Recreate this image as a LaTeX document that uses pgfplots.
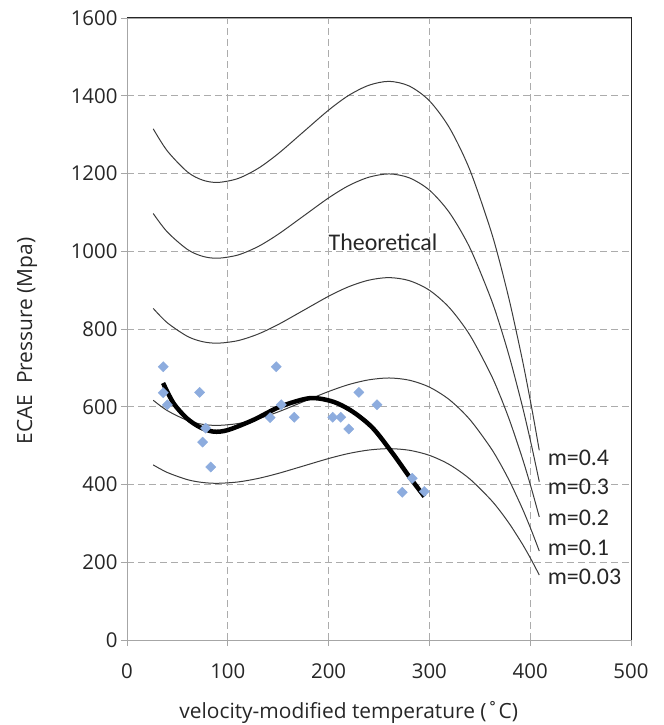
\documentclass[border=0pt]{standalone}
\usepackage{pgfplots}
\pgfplotsset{compat=1.18}
\usepackage{fontspec}
\setmainfont{Carlito}
\newfontfamily\osfont{Open Sans}
\definecolor{ptblue}{RGB}{141,172,222}
\definecolor{curve}{RGB}{60,60,60}
\begin{document}
\begin{tikzpicture}
\begin{axis}[
  scale only axis, width=504bp, height=622bp,
  xmin=0, xmax=500, ymin=0, ymax=1600,
  xtick={0,100,...,500}, ytick={0,200,...,1600},
  grid=major,
  major grid style={gray!65, line width=0.8bp, dash pattern=on 7bp off 4bp},
  axis line style={gray!70, line width=0.8bp},
  tick align=outside, xtick pos=left, ytick pos=left,
  major tick length=6bp,
  tick style={gray!70, line width=0.8bp},
  /pgf/number format/assume math mode=true,
  /pgf/number format/1000 sep={},
  tick label style={font=\osfont\fontsize{20.5}{24}\selectfont, text=black!85},
  xticklabel style={yshift=-14bp},
  clip=false,
]
% experimental data
\addplot[only marks, mark=square*, mark size=3.6bp, mark options={rotate=45, fill=ptblue, draw=ptblue}] coordinates {
(36,703) (36,636) (40,605) (72,637) (78,545) (75,509) (83,445)
(148,703) (153,605) (142,572) (166,573) (204,573) (212,573) (220,543)
(230,637) (248,605) (273,380) (283,416) (295,382)
};
% theoretical curves
\addplot[curve, line width=1bp, smooth] coordinates {
(26,1315) (40,1258) (60,1204) (75,1183) (90,1177) (110,1187) (130,1213) (150,1251) (175,1307) (200,1363) (220,1401) (240,1427) (260,1437) (280,1425) (300,1387) (320,1317) (340,1210) (360,1061) (370,970) (380,866) (390,748) (395,685) (402,590) (409,488)
};
\addplot[curve, line width=1bp, smooth] coordinates {
(26,1097.1) (40,1049.5) (60,1004.5) (75,987) (90,982) (110,990.3) (130,1012) (150,1043.7) (175,1090.4) (200,1137.2) (220,1168.9) (240,1190.5) (260,1198.9) (280,1188.9) (300,1157.2) (320,1098.8) (340,1009.5) (360,885.2) (370,809.3) (380,722.5) (390,624.1) (395,571.5) (402,492.2) (409,407.1)
};
\addplot[curve, line width=1bp, smooth] coordinates {
(26,853) (40,816) (60,781) (75,767.4) (90,763.5) (110,770) (130,786.9) (150,811.5) (175,847.8) (200,884.2) (220,908.8) (240,925.7) (260,932.2) (280,924.4) (300,899.7) (320,854.3) (340,784.9) (360,688.3) (370,629.2) (380,561.8) (390,485.2) (395,444.4) (402,382.7) (409,316.6)
};
\addplot[curve, line width=1bp, smooth] coordinates {
(26,616.7) (40,590) (60,564.7) (75,554.8) (90,552) (110,556.7) (130,568.9) (150,586.7) (175,613) (200,639.2) (220,657.1) (240,669.3) (260,674) (280,668.3) (300,650.5) (320,617.7) (340,567.5) (360,497.6) (370,454.9) (380,406.2) (390,350.8) (395,321.3) (402,276.7) (409,228.9)
};
\addplot[curve, line width=1bp, smooth] coordinates {
(26,450.4) (40,430.9) (60,412.4) (75,405.2) (90,403.1) (110,406.5) (130,415.5) (150,428.5) (175,447.6) (200,466.8) (220,479.8) (240,488.7) (260,492.2) (280,488.1) (300,475) (320,451.1) (340,414.4) (360,363.4) (370,332.2) (380,296.6) (390,256.2) (395,234.6) (402,202.1) (409,167.1)
};
% polynomial trend of the data
\addplot[black, line width=4.5bp, smooth, tension=0.5] coordinates {
(35.8,661) (46.2,609) (59.5,570) (72.6,547) (85.8,536) (100,540) (125.3,566) (151.7,600) (181.3,622) (204.4,613) (224.1,587) (243.9,545) (263.6,480) (280.1,420) (295,369)
};
\draw[black!85, line width=1bp] (rel axis cs:0,1) -- (rel axis cs:1,1) -- (rel axis cs:1,0);
\node[font=\fontsize{24}{28}\selectfont, text=black!85] at (axis cs:254,1022) {Theoretical};
\node[anchor=west, font=\fontsize{24}{28}\selectfont, text=black!85] at (axis cs:414,469) {m=0.4};
\node[anchor=west, font=\fontsize{24}{28}\selectfont, text=black!85] at (axis cs:414,393) {m=0.3};
\node[anchor=west, font=\fontsize{24}{28}\selectfont, text=black!85] at (axis cs:414,315) {m=0.2};
\node[anchor=west, font=\fontsize{24}{28}\selectfont, text=black!85] at (axis cs:414,238) {m=0.1};
\node[anchor=west, font=\fontsize{24}{28}\selectfont, text=black!85] at (axis cs:414,162) {m=0.03};
\node[font=\osfont\fontsize{21}{25}\selectfont, text=black!85] at ([yshift=-72bp]axis description cs:0.44,0) {velocity-modified temperature (˚C)};
\node[rotate=90, font=\osfont\fontsize{21}{25}\selectfont, text=black!85] at ([xshift=-100bp, yshift=-12bp]axis description cs:0,0.5) {ECAE\ \ Pressure (Mpa)};
\coordinate (sw) at (rel axis cs:0,0);
\coordinate (ne) at (rel axis cs:1,1);
\end{axis}
\pgfresetboundingbox
\path ([shift={(-127bp,-85bp)}]sw) rectangle ([shift={(33bp,18bp)}]ne);
\end{tikzpicture}
\end{document}
